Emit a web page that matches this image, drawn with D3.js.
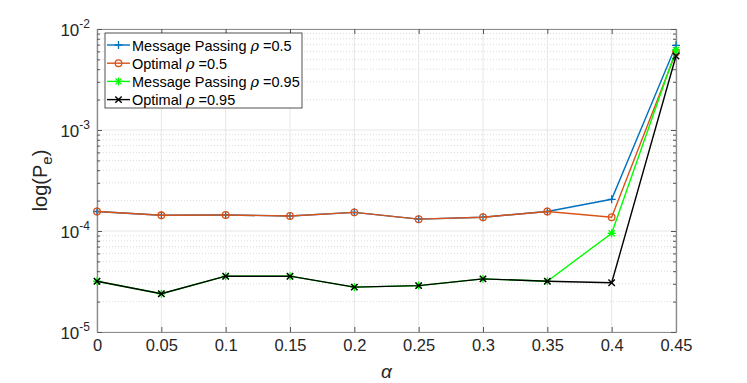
<!DOCTYPE html>
<html>
<head>
<meta charset="utf-8">
<script src="https://cdn.jsdelivr.net/npm/d3@7"></script>
<style>
body { margin: 0; background: #fff; }
text { font-family: "Liberation Sans", Arial, sans-serif; }
</style>
</head>
<body>
<script>
var w = 747, h = 383;

// data
var alphas = [0, 0.05, 0.1, 0.15, 0.2, 0.25, 0.3, 0.35, 0.4, 0.45];
var mp05  = [1.56e-4, 1.43e-4, 1.44e-4, 1.41e-4, 1.53e-4, 1.31e-4, 1.37e-4, 1.56e-4, 2.06e-4, 6.9e-3];
var opt05 = [1.56e-4, 1.43e-4, 1.44e-4, 1.41e-4, 1.53e-4, 1.31e-4, 1.37e-4, 1.56e-4, 1.37e-4, 5.9e-3];
var mp95  = [3.18e-5, 2.39e-5, 3.57e-5, 3.57e-5, 2.78e-5, 2.88e-5, 3.36e-5, 3.18e-5, 9.5e-5, 6.2e-3];
var opt95 = [3.18e-5, 2.39e-5, 3.57e-5, 3.57e-5, 2.78e-5, 2.88e-5, 3.36e-5, 3.18e-5, 3.07e-5, 5.4e-3];
var xTicks = ['0', '0.05', '0.1', '0.15', '0.2', '0.25', '0.3', '0.35', '0.4', '0.45'];
var yDecades = [-5, -4, -3, -2];
var legendNames = ['Message Passing', 'Optimal', 'Message Passing', 'Optimal'];
var legendRho = ['0.5', '0.5', '0.95', '0.95'];

var series = [
  {vals: mp05, color: '#0072BD', mark: 'plus'},
  {vals: opt05, color: '#D95319', mark: 'circle'},
  {vals: mp95, color: '#00FF00', mark: 'star'},
  {vals: opt95, color: '#000000', mark: 'cross'}
];

var L = 97, R = 676, T = 29, B = 332;

var x = d3.scaleLinear().domain([0, 0.45]).range([L, R]);
var y = d3.scaleLog().domain([1e-5, 1e-2]).range([B, T]);

var svg = d3.select('body').append('svg').attr('width', w).attr('height', h);

// minor grid (dotted)
var minors = [];
yDecades.slice(0, 3).forEach(function(e) {
  for (var k = 2; k <= 9; k++) minors.push(k * Math.pow(10, e));
});
svg.selectAll('.minor').data(minors).enter().append('line')
  .attr('x1', L).attr('x2', R)
  .attr('y1', function(d) { return y(d); }).attr('y2', function(d) { return y(d); })
  .attr('stroke', '#d2d2d2').attr('stroke-width', 0.8).attr('stroke-dasharray', '1,2');

// major grid
svg.selectAll('.gx').data(alphas).enter().append('line')
  .attr('x1', function(d) { return x(d); }).attr('x2', function(d) { return x(d); })
  .attr('y1', T).attr('y2', B)
  .attr('stroke', '#e6e6e6').attr('stroke-width', 1);
svg.selectAll('.gy').data(yDecades).enter().append('line')
  .attr('x1', L).attr('x2', R)
  .attr('y1', function(d) { return y(Math.pow(10, d)); }).attr('y2', function(d) { return y(Math.pow(10, d)); })
  .attr('stroke', '#e6e6e6').attr('stroke-width', 1);

// axes
var axisColor = '#8c8c8c';
var xb = svg.append('g').attr('transform', 'translate(0,' + B + ')')
  .call(d3.axisBottom(x).tickValues(alphas).tickFormat(function(d, i) { return xTicks[i]; }).tickSizeInner(-5).tickSizeOuter(0));
var xt = svg.append('g').attr('transform', 'translate(0,' + T + ')')
  .call(d3.axisTop(x).tickValues(alphas).tickFormat('').tickSizeInner(-5).tickSizeOuter(0));
var yl = svg.append('g').attr('transform', 'translate(' + L + ',0)')
  .call(d3.axisLeft(y).tickValues(yDecades.map(function(e) { return Math.pow(10, e); })).tickFormat('').tickSizeInner(-5).tickSizeOuter(0));
var yr = svg.append('g').attr('transform', 'translate(' + R + ',0)')
  .call(d3.axisRight(y).tickValues(yDecades.map(function(e) { return Math.pow(10, e); })).tickFormat('').tickSizeInner(-5).tickSizeOuter(0));
// minor ticks on y axes
var yml = svg.append('g').attr('transform', 'translate(' + L + ',0)')
  .call(d3.axisLeft(y).tickValues(minors).tickFormat('').tickSizeInner(-3).tickSizeOuter(0));
var ymr = svg.append('g').attr('transform', 'translate(' + R + ',0)')
  .call(d3.axisRight(y).tickValues(minors).tickFormat('').tickSizeInner(-3).tickSizeOuter(0));
[xb, xt, yl, yr, yml, ymr].forEach(function(g) {
  g.select('.domain').attr('stroke', axisColor).attr('stroke-width', 1.2);
  g.selectAll('.tick line').attr('stroke', '#555');
});
xb.selectAll('.tick text').attr('font-size', 16.5).attr('fill', '#262626').attr('dy', '0.95em');

// y tick labels 10^n
yDecades.forEach(function(e) {
  var t = svg.append('text').attr('x', L - 7).attr('y', y(Math.pow(10, e)) + 7)
    .attr('text-anchor', 'end').attr('font-size', 17).attr('fill', '#262626');
  t.append('tspan').text('10');
  t.append('tspan').attr('dy', -8).attr('font-size', 12).text('-' + Math.abs(e));
});

// lines + markers
var line = d3.line().x(function(d, i) { return x(alphas[i]); }).y(function(d) { return y(d); });

function drawMark(g, type, cx, cy, color) {
  if (type === 'plus') {
    g.append('path').attr('d', 'M' + (cx - 4) + ',' + cy + 'H' + (cx + 4) + 'M' + cx + ',' + (cy - 4) + 'V' + (cy + 4))
      .attr('stroke', color).attr('stroke-width', 1.3).attr('fill', 'none');
  } else if (type === 'circle') {
    g.append('circle').attr('cx', cx).attr('cy', cy).attr('r', 3.3)
      .attr('stroke', color).attr('stroke-width', 1.3).attr('fill', 'none');
  } else if (type === 'star') {
    g.append('path').attr('d', 'M' + (cx - 4) + ',' + cy + 'H' + (cx + 4) + 'M' + cx + ',' + (cy - 4) + 'V' + (cy + 4) +
      'M' + (cx - 3) + ',' + (cy - 3) + 'L' + (cx + 3) + ',' + (cy + 3) + 'M' + (cx - 3) + ',' + (cy + 3) + 'L' + (cx + 3) + ',' + (cy - 3))
      .attr('stroke', color).attr('stroke-width', 1.3).attr('fill', 'none');
  } else {
    g.append('path').attr('d', 'M' + (cx - 3.2) + ',' + (cy - 3.2) + 'L' + (cx + 3.2) + ',' + (cy + 3.2) + 'M' + (cx - 3.2) + ',' + (cy + 3.2) + 'L' + (cx + 3.2) + ',' + (cy - 3.2))
      .attr('stroke', color).attr('stroke-width', 1.4).attr('fill', 'none');
  }
}

series.forEach(function(s) {
  svg.append('path').datum(s.vals).attr('d', line)
    .attr('fill', 'none').attr('stroke', s.color).attr('stroke-width', 1.4);
  var g = svg.append('g');
  s.vals.forEach(function(v, i) { drawMark(g, s.mark, x(alphas[i]), y(v), s.color); });
});

// legend
var lg = svg.append('g');
lg.append('rect').attr('x', 105).attr('y', 33).attr('width', 197).attr('height', 75)
  .attr('fill', '#fff').attr('stroke', '#262626').attr('stroke-width', 0.8);
series.forEach(function(s, i) {
  var ly = 45 + i * 18.2;
  lg.append('line').attr('x1', 107).attr('x2', 130).attr('y1', ly).attr('y2', ly)
    .attr('stroke', s.color).attr('stroke-width', 1.4);
  drawMark(lg, s.mark, 118.5, ly, s.color);
  var t = lg.append('text').attr('x', 132).attr('y', ly + 5.5).attr('font-size', 14.5).attr('fill', '#000');
  t.append('tspan').text(legendNames[i] + ' ');
  t.append('tspan').attr('font-family', 'DejaVu Serif, serif').attr('font-style', 'italic').text('\u03c1');
  t.append('tspan').text(' =' + legendRho[i]);
});

// axis labels
svg.append('text').attr('x', (L + R) / 2).attr('y', 378).attr('text-anchor', 'middle')
  .attr('font-size', 19).attr('font-family', 'DejaVu Serif, serif').attr('font-style', 'italic').attr('fill', '#262626').text('\u03b1');
var yt = svg.append('text').attr('transform', 'translate(47,' + ((T + B) / 2) + ') rotate(-90)')
  .attr('text-anchor', 'middle').attr('font-size', 20).attr('fill', '#262626');
yt.append('tspan').text('log(P');
yt.append('tspan').attr('dy', 5).attr('font-size', 15).text('e');
yt.append('tspan').attr('dy', -5).text(')');
</script>
</body>
</html>
